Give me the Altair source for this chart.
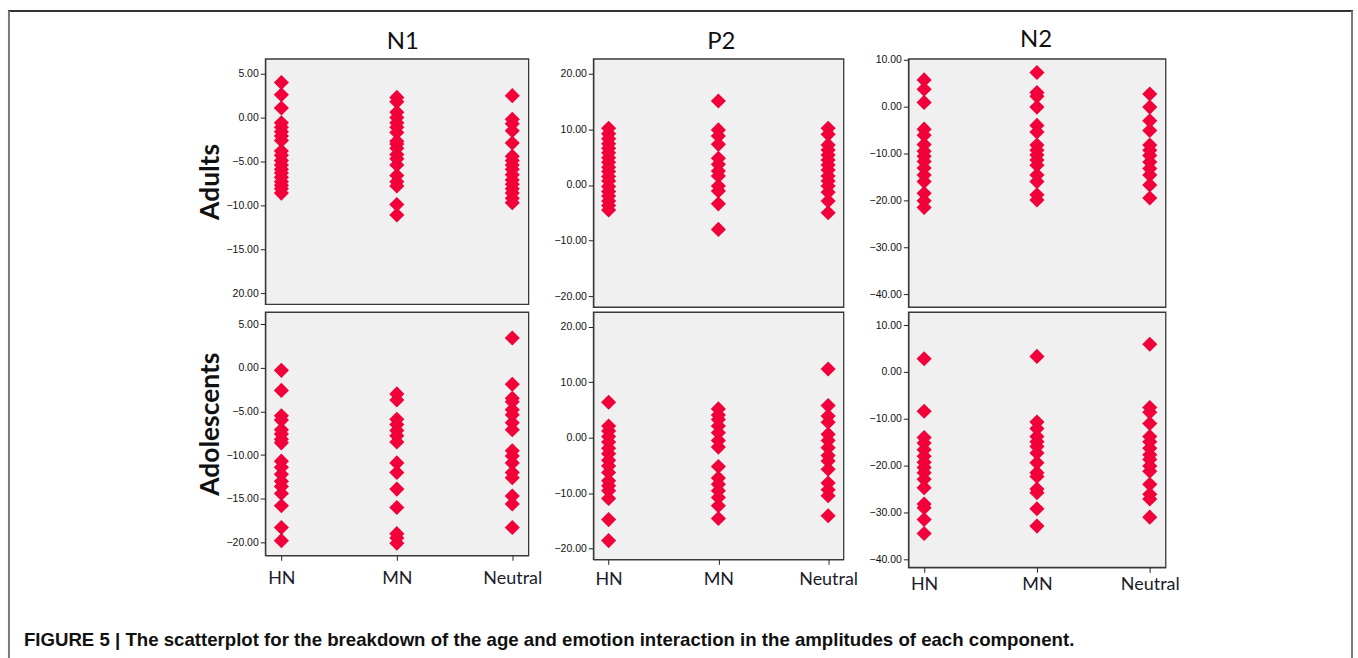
import altair as alt
import pandas as pd

EMOTIONS = ["HN", "MN", "Neutral"]
COMPONENTS = ["N1", "P2", "N2"]
AGES = ["Adults", "Adolescents"]

N1_ADULTS_HN = [4.0, 2.6, 1.1, -0.6, -1.1, -1.6, -2.1, -2.6, -3.8, -4.3, -4.9, -5.4, -5.9, -6.3, -6.8, -7.3, -7.7, -8.1, -8.6]
N1_ADULTS_MN = [2.3, 1.8, 0.6, 0.0, -0.6, -1.1, -1.7, -2.7, -3.0, -3.5, -4.2, -4.7, -5.4, -6.6, -7.3, -7.8, -9.9, -11.1]
N1_ADULTS_NEU = [2.5, -0.2, -0.7, -1.5, -2.9, -4.4, -4.9, -5.4, -5.9, -6.5, -7.1, -7.6, -8.1, -8.6, -9.2, -9.7]

N1_ADOL_HN = [-0.3, -2.6, -5.5, -6.0, -7.1, -7.6, -8.2, -8.6, -10.7, -11.4, -12.2, -13.0, -13.6, -14.4, -15.8, -18.3, -19.8]
N1_ADOL_MN = [-3.0, -3.7, -5.9, -6.5, -7.2, -7.8, -8.5, -10.9, -12.0, -13.9, -16.0, -19.0, -19.5, -20.1]
N1_ADOL_NEU = [3.4, -1.9, -3.5, -3.9, -4.8, -5.4, -6.3, -7.1, -9.5, -10.1, -10.9, -12.0, -12.6, -14.7, -15.6, -18.3]

P2_ADULTS_HN = [10.2, 9.2, 8.3, 7.4, 6.6, 5.8, 4.9, 4.1, 3.2, 2.4, 1.5, 0.7, -0.3, -1.2, -2.0, -2.9, -3.7, -4.5]
P2_ADULTS_MN = [15.1, 9.9, 8.8, 7.3, 4.8, 3.7, 2.5, 1.6, -0.2, -1.1, -3.4, -8.0]
P2_ADULTS_NEU = [10.2, 9.1, 7.2, 6.3, 5.4, 4.5, 3.6, 2.7, 1.6, 0.7, -0.2, -1.3, -2.9, -5.0]

P2_ADOL_HN = [6.4, 2.1, 1.2, 0.2, -0.8, -1.9, -2.9, -4.1, -5.1, -6.3, -7.8, -8.7, -9.6, -11.0, -14.8, -18.6]
P2_ADOL_MN = [5.2, 4.1, 3.3, 2.1, 0.9, -0.5, -1.7, -5.2, -7.3, -8.4, -9.6, -10.8, -12.3, -14.6]
P2_ADOL_NEU = [12.4, 5.8, 3.9, 2.8, 0.6, -0.5, -1.8, -3.2, -4.2, -5.7, -8.2, -9.4, -10.5, -14.1]

N2_ADULTS_HN = [5.7, 3.7, 0.9, -4.8, -6.1, -8.1, -9.5, -10.6, -11.7, -13.1, -14.6, -16.0, -18.5, -20.1, -21.5]
N2_ADULTS_MN = [7.3, 3.0, 2.2, -0.1, -4.0, -5.4, -8.2, -9.3, -10.3, -11.4, -12.5, -14.6, -16.0, -18.8, -19.9]
N2_ADULTS_NEU = [2.7, -0.1, -3.0, -5.1, -8.2, -9.3, -10.4, -11.8, -13.2, -14.6, -16.7, -19.5]

N2_ADOL_HN = [2.8, -8.4, -14.0, -15.2, -16.6, -18.0, -19.3, -20.4, -21.5, -22.9, -24.7, -28.2, -29.0, -31.5, -34.5]
N2_ADOL_MN = [3.3, -10.7, -12.1, -13.8, -14.9, -15.9, -17.3, -19.4, -21.5, -22.3, -25.0, -25.8, -29.2, -32.9]
N2_ADOL_NEU = [5.9, -7.6, -8.6, -11.0, -13.8, -14.9, -16.3, -17.7, -18.7, -20.1, -21.2, -24.0, -26.1, -27.1, -31.0]

Y_TICKS = {
    "N1": [5, 0, -5, -10, -15, -20],
    "P2": [20, 10, 0, -10, -20],
    "N2": [10, 0, -10, -20, -30, -40],
}
CAPTION = "FIGURE 5 | The scatterplot for the breakdown of the age and emotion interaction in the amplitudes of each component."

SERIES = {
    ("N1", "Adults"): [N1_ADULTS_HN, N1_ADULTS_MN, N1_ADULTS_NEU],
    ("N1", "Adolescents"): [N1_ADOL_HN, N1_ADOL_MN, N1_ADOL_NEU],
    ("P2", "Adults"): [P2_ADULTS_HN, P2_ADULTS_MN, P2_ADULTS_NEU],
    ("P2", "Adolescents"): [P2_ADOL_HN, P2_ADOL_MN, P2_ADOL_NEU],
    ("N2", "Adults"): [N2_ADULTS_HN, N2_ADULTS_MN, N2_ADULTS_NEU],
    ("N2", "Adolescents"): [N2_ADOL_HN, N2_ADOL_MN, N2_ADOL_NEU],
}

rows = []
for (comp, age), lists in SERIES.items():
    for emo, vals in zip(EMOTIONS, lists):
        for v in vals:
            rows.append({"component": comp, "age": age, "emotion": emo, "value": v})
df = pd.DataFrame(rows)

RED = "#F2003A"
BOX_FILL = "#F0F0F0"
BOX_STROKE = "#3a3a3a"

# plot-area geometry (grid: top row at y=57, bottom row at y=311)
GEOM = {
    ("N1", "Adults"): dict(w=264, h=246, dom=[-21.25, 6.7]),
    ("N1", "Adolescents"): dict(w=264, h=244, dom=[-21.48, 6.37]),
    ("P2", "Adults"): dict(w=251, h=249, dom=[-21.97, 22.69]),
    ("P2", "Adolescents"): dict(w=251, h=248, dom=[-21.98, 22.7]),
    ("N2", "Adults"): dict(w=258, h=249, dom=[-42.77, 10.21]),
    ("N2", "Adolescents"): dict(w=258, h=256, dom=[-41.7, 12.77]),
}
TITLE_OFFSET = {"N1": 5, "P2": 5, "N2": 3}
TITLE_DX = {"N1": 6, "P2": 3, "N2": -1}
XLABEL_PAD = {"N1": 9, "P2": 6, "N2": 3}
TOP0, ROW2, LEFT0 = 57, 311, 264


def panel(comp, age):
    g = GEOM[(comp, age)]
    first_col = comp == "N1"
    if comp == "N1" and age == "Adults":
        lexpr = "datum.value == -20 ? '20.00' : format(datum.value, '.2f')"
    else:
        lexpr = "format(datum.value, '.2f')"
    yaxis_kw = dict(
        values=Y_TICKS[comp], labelExpr=lexpr, grid=False,
        tickSize=5, tickColor="#222222", domainColor=BOX_STROKE, domainWidth=1.3,
        labelFont="Liberation Sans", labelFontSize=10.5, labelColor="#111111",
        minExtent=30, maxExtent=30,
    )
    if first_col:
        yaxis_kw.update(title=age, titleFont="Lato", titleFontSize=26.5, titleFontWeight="bold",
                        titleColor="#111111", titlePadding=11)
        if age == "Adolescents":
            yaxis_kw.update(titleY=112)
    else:
        yaxis_kw.update(title=None)

    if age == "Adults":
        xenc = alt.X("emotion:N", sort=EMOTIONS,
                     scale=alt.Scale(type="point", padding=0.14, domain=EMOTIONS), axis=None)
    else:
        xenc = alt.X("emotion:N", sort=EMOTIONS,
                     scale=alt.Scale(type="point", padding=0.14, domain=EMOTIONS),
                     axis=alt.Axis(title=None, labelAngle=0, labelFont="Lato", labelFontSize=18,
                                   labelColor="#1c1c2c", tickSize=5, tickColor="#222222",
                                   domainColor=BOX_STROKE, labelPadding=XLABEL_PAD[comp], grid=False))

    pts = alt.Chart(df).transform_filter(
        (alt.datum.component == comp) & (alt.datum.age == age)
    ).mark_point(shape="diamond", filled=True, size=230, color=RED, opacity=1).encode(
        x=xenc,
        y=alt.Y("value:Q", scale=alt.Scale(domain=g["dom"], nice=False, zero=False),
                axis=alt.Axis(**yaxis_kw)),
    )
    layers = [pts]
    one = pd.DataFrame({"a": [0]})
    if comp == "N1" and age == "Adolescents":
        # figure frame (decoration), placed relative to this panel's origin
        fx0, fx1, fy0, fy1 = 7 - LEFT0, 1354 - LEFT0, 9 - ROW2, 658 - ROW2
        layers.append(alt.Chart(one).mark_rule(color="#333333", strokeWidth=2).encode(
            x=alt.value(fx0 - 1), x2=alt.value(fx1 + 1), y=alt.value(fy0)))
        layers.append(alt.Chart(one).mark_rule(color="#7a7a7a", strokeWidth=2).encode(
            x=alt.value(fx0), y=alt.value(fy0), y2=alt.value(fy1)))
        layers.append(alt.Chart(one).mark_rule(color="#7a7a7a", strokeWidth=2).encode(
            x=alt.value(fx1), y=alt.value(fy0), y2=alt.value(fy1)))
        layers.append(alt.Chart(pd.DataFrame({"t": [CAPTION]})).mark_text(
            align="left", baseline="middle", font="Liberation Sans", fontSize=18.7,
            fontWeight="bold", color="#111111").encode(
            x=alt.value(22 - LEFT0), y=alt.value(640 - ROW2), text="t:N"))

    props = dict(width=g["w"], height=g["h"],
                 view=alt.ViewBackground(fill=BOX_FILL, stroke=BOX_STROKE, strokeWidth=1.3))
    if age == "Adults":
        props["title"] = alt.TitleParams(text=comp, font="Lato", fontSize=24, fontWeight="normal",
                                         color="#111111", anchor="middle",
                                         offset=TITLE_OFFSET[comp], dx=TITLE_DX[comp])
    return alt.layer(*layers).properties(**props)


panels = [panel(c, a) for a in AGES for c in COMPONENTS]
chart = alt.concat(*panels, columns=3, spacing={"row": 5, "column": 65},
                   bounds="flush", align="each").properties(
    padding={"left": 6, "top": 8, "right": 3, "bottom": 0},
    background="white",
)

chart.save("out.html", embed_options={"renderer": "svg", "actions": False})
